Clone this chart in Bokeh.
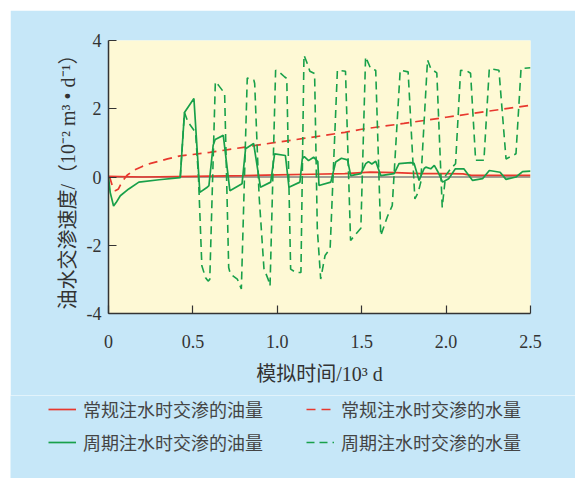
from bokeh.plotting import figure
from bokeh.models import Range1d, FixedTicker, Span, Legend, LegendItem, Spacer
from bokeh.layouts import column, row
from bokeh.embed import file_html
from bokeh.resources import INLINE

# ---------------- data (time in 10^3 d, rate in 10^-2 m^3/d) ----------------
conv_oil_t = [0.0, 0.2, 0.5, 0.8, 1.0, 1.2, 1.4, 1.55, 1.7, 1.85, 2.0, 2.1, 2.15, 2.5]
conv_oil_v = [0.02, 0.0, 0.02, 0.04, 0.06, 0.08, 0.10, 0.14, 0.13, 0.10, 0.10, 0.09, 0.05, 0.05]

conv_water_t = [0.0, 0.010, 0.025, 0.040, 0.059, 0.079, 0.110, 0.148, 0.200, 0.250, 0.350,
                0.425, 0.500, 0.600, 0.800, 1.000, 1.200, 1.400, 1.500, 1.750, 2.000, 2.250, 2.500]
conv_water_v = [0.0, -0.05, -0.30, -0.40, -0.35, -0.15, 0.05, 0.19, 0.31, 0.40, 0.53,
                0.62, 0.66, 0.72, 0.87, 1.02, 1.16, 1.31, 1.40, 1.57, 1.75, 1.93, 2.10]

cyc_oil_t = [0.000, 0.010, 0.030, 0.045, 0.070, 0.120, 0.180, 0.300, 0.425, 0.450, 0.506,
             0.541, 0.585, 0.595, 0.620, 0.632, 0.680, 0.719, 0.791, 0.812, 0.860, 0.900,
             0.961, 0.984, 1.048, 1.069, 1.134, 1.148, 1.160, 1.185, 1.215, 1.240, 1.247,
             1.317, 1.346, 1.380, 1.416, 1.435, 1.495, 1.524, 1.540, 1.560, 1.583, 1.613,
             1.692, 1.721, 1.791, 1.810, 1.840, 1.870, 1.880, 1.909, 1.930, 1.953, 1.979,
             2.015, 2.055, 2.105, 2.157, 2.216, 2.256, 2.320, 2.355, 2.414, 2.453, 2.500]
cyc_oil_v = [0.00, -0.45, -0.85, -0.75, -0.55, -0.35, -0.15, -0.08, -0.02, 1.89, 2.30,
             -0.45, -0.30, -0.25, 0.93, 1.10, 1.22, -0.40, -0.20, 0.83, 0.98, -0.30,
             -0.15, 0.68, 0.63, -0.30, -0.15, 0.53, 0.60, 0.48, 0.58, 0.45, -0.25,
             -0.15, 0.44, 0.55, 0.50, 0.04, 0.10, 0.39, 0.45, 0.38, 0.46, 0.04,
             0.10, 0.39, 0.42, 0.40, -0.10, 0.25, 0.29, 0.24, 0.34, 0.14, -0.15,
             -0.05, 0.24, 0.24, -0.10, -0.05, 0.19, 0.14, -0.07, 0.00, 0.16, 0.17]

cyc_water_t = [0.425, 0.450, 0.470, 0.516, 0.533, 0.553, 0.575, 0.590, 0.600, 0.633, 0.650,
               0.688, 0.712, 0.722, 0.763, 0.787, 0.822, 0.861, 0.866, 0.892, 0.921, 0.946,
               0.957, 0.990, 1.015, 1.044, 1.056, 1.079, 1.110, 1.140, 1.158, 1.174, 1.193,
               1.221, 1.237, 1.257, 1.283, 1.313, 1.356, 1.404, 1.434, 1.444, 1.495, 1.523,
               1.553, 1.583, 1.613, 1.653, 1.681, 1.728, 1.775, 1.815, 1.835, 1.850, 1.890,
               1.909, 1.945, 1.977, 1.997, 2.027, 2.056, 2.086, 2.126, 2.145, 2.175, 2.224,
               2.256, 2.313, 2.355, 2.414, 2.444, 2.500]
cyc_water_v = [-0.02, 1.89, 1.62, 1.30, 0.00, -2.60, -2.95, -3.05, -3.00, 2.79, 2.70,
               2.45, -2.65, -2.84, -2.99, -3.28, 2.90, 2.84, 2.74, -0.54, -2.69, -3.00,
               -3.19, 3.13, 3.06, 2.93, 2.89, -2.70, -2.80, -2.80, 3.57, 3.37, 3.10,
               3.03, -1.52, -2.99, -2.30, -2.10, 3.13, 3.10, -1.86, -1.80, -1.50, 3.52,
               3.18, 3.13, -1.72, -1.15, -0.84, 3.13, 3.08, -0.64, -0.45, -0.15, 3.43,
               3.18, 3.05, -0.89, 0.04, 0.24, 0.39, 3.13, 3.10, 3.04, 0.49, 0.49,
               3.18, 3.13, 0.53, 0.68, 3.18, 3.20]

x_ticks = [0, 0.5, 1.0, 1.5, 2.0, 2.5]
x_tick_labels = ["0", "0.5", "1.0", "1.5", "2.0", "2.5"]
y_ticks = [-4, -2, 0, 2, 4]
y_tick_labels = ["-4", "-2", "0", "2", "4"]

labels = ["常规注水时交渗的油量", "常规注水时交渗的水量",
          "周期注水时交渗的油量", "周期注水时交渗的水量"]

RED = "#e8382e"
GREEN = "#18a04a"
BLUE_BG = "#c6e7f8"
SERIF = "Liberation Serif, Noto Sans CJK SC"
RED_DASH = "9 6"
GREEN_DASH = "8 5"

# ---------------- main chart ----------------
p = figure(width=565, height=385, output_backend="svg", toolbar_location=None,
           x_range=Range1d(0, 2.5), y_range=Range1d(-4, 4),
           min_border_left=98, min_border_right=45, min_border_top=30,
           min_border_bottom=82)
p.border_fill_color = BLUE_BG
p.background_fill_color = "#fef9d5"
p.outline_line_color = None
p.xgrid.visible = False
p.ygrid.visible = False

zero = Span(location=0, dimension="width", line_color="#808080", line_width=1.5,
            level="underlay")
p.add_layout(zero)

p.line(conv_oil_t, conv_oil_v, line_color=RED, line_width=1.7)
p.line(conv_water_t, conv_water_v, line_color=RED, line_width=1.7, line_dash=RED_DASH)
p.line(cyc_water_t, cyc_water_v, line_color=GREEN, line_width=1.6, line_dash=GREEN_DASH)
p.line(cyc_oil_t, cyc_oil_v, line_color=GREEN, line_width=1.7)

for ax in (p.xaxis[0], p.yaxis[0]):
    ax.axis_line_color = "#333333"
    ax.axis_line_width = 1.5
    ax.major_tick_line_color = "#333333"
    ax.major_tick_line_width = 1.2
    ax.major_tick_in = 8
    ax.major_tick_out = 0
    ax.minor_tick_line_color = None
    ax.major_label_text_font = "Liberation Serif"
    ax.major_label_text_font_size = "18px"
    ax.major_label_text_color = "#333333"
    ax.axis_label_text_font = SERIF
    ax.axis_label_text_font_size = "20px"
    ax.axis_label_text_font_style = "normal"
    ax.axis_label_text_color = "#333333"

p.xaxis.ticker = FixedTicker(ticks=x_ticks)
p.xaxis.major_label_overrides = {t: l for t, l in zip(x_ticks, x_tick_labels)}
p.yaxis.ticker = FixedTicker(ticks=y_ticks)
p.yaxis.major_label_overrides = {t: l for t, l in zip(y_ticks, y_tick_labels)}
p.xaxis.major_label_standoff = 21
p.yaxis.major_label_standoff = 7
p.xaxis.axis_label = "模拟时间/10³ d"
p.yaxis.axis_label = "油水交渗速度/（10⁻² m³ • d⁻¹）"
p.xaxis.axis_label_standoff = 12
p.yaxis.axis_label_standoff = 5

# ---------------- legend strip ----------------
q = figure(width=565, height=83, output_backend="svg", toolbar_location=None,
           x_range=Range1d(0, 1), y_range=Range1d(0, 1),
           x_axis_type=None, y_axis_type=None, min_border=0,
           min_border_left=0, min_border_right=0, min_border_top=0, min_border_bottom=0)
q.border_fill_color = BLUE_BG
q.background_fill_color = BLUE_BG
q.outline_line_color = None
q.xgrid.visible = False
q.ygrid.visible = False

# swatch renderers (kept outside the visible range; only their legend glyphs show)
s_co = q.line([0, 1], [-5, -5], line_color=RED, line_width=1.7)
s_cw = q.line([0, 1], [-5, -5], line_color=RED, line_width=1.7, line_dash=RED_DASH)
s_po = q.line([0, 1], [-5, -5], line_color=GREEN, line_width=1.7)
s_pw = q.line([0, 1], [-5, -5], line_color=GREEN, line_width=1.6, line_dash=GREEN_DASH)


def make_legend(items, vy):
    return Legend(items=items, location=(38, vy), orientation="horizontal",
                  spacing=13, padding=0, margin=0, border_line_color=None,
                  background_fill_alpha=0, glyph_width=28, glyph_height=20,
                  label_standoff=7, label_height=20, label_width=210,
                  label_text_font="Noto Sans CJK SC", label_text_font_size="18px",
                  label_text_color="#444444")


q.add_layout(make_legend([LegendItem(label=labels[0], renderers=[s_co]),
                          LegendItem(label=labels[1], renderers=[s_cw])], 56), "center")
q.add_layout(make_legend([LegendItem(label=labels[2], renderers=[s_po]),
                          LegendItem(label=labels[3], renderers=[s_pw])], 23), "center")

layout = column(Spacer(height=10), row(Spacer(width=10), p), row(Spacer(width=10), q))
open("out.html", "w").write(file_html(layout, INLINE))
